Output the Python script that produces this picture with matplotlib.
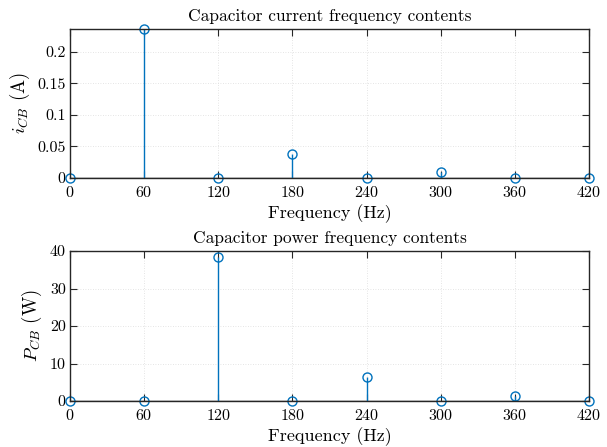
import numpy as np
import matplotlib
matplotlib.use("Agg")
import matplotlib.pyplot as plt
import matplotlib.ticker as mticker

# ------------------------------------------------------------
# Dados
freq = [0, 60, 120, 180, 240, 300, 360, 420]
i_cb = [0, 0.236, 0, 0.038, 0, 0.009, 0, 0]
p_cb = [0, 0, 38.4, 0, 6.5, 0, 1.3, 0]

i_ticks = [0, 0.05, 0.1, 0.15, 0.2]
p_ticks = [0, 10, 20, 30, 40]

# ------------------------------------------------------------
# Estilo tipo MATLAB/LaTeX
plt.rcParams["font.family"] = "serif"
plt.rcParams["font.serif"] = ["cmr10", "DejaVu Serif"]
plt.rcParams["mathtext.fontset"] = "cm"
plt.rcParams["axes.formatter.use_mathtext"] = True

azul = "#0072BD"
eixo = "#262626"

fig = plt.figure(figsize=(6.07, 4.47), dpi=100)
ax1 = fig.add_axes([70 / 607, 1 - 178 / 447, 519 / 607, 149 / 447])
ax2 = fig.add_axes([70 / 607, 1 - 401 / 447, 519 / 607, 150 / 447])


def stem(ax, x, y, ymax, yticks, ylabel, title):
    ml, sl, bl = ax.stem(x, y, basefmt=" ")
    plt.setp(sl, color=azul, linewidth=1.0)
    plt.setp(ml, color=azul, marker="o", markersize=6.5,
             markerfacecolor="none", markeredgewidth=1.0)
    ml.set_clip_on(False)
    ax.axhline(0, color=eixo, linewidth=1.0, zorder=1)
    ax.set_xlim(0, 420)
    ax.set_ylim(0, ymax)
    ax.set_xticks(x)
    ax.set_yticks(yticks)
    ax.yaxis.set_major_formatter(mticker.FuncFormatter(lambda v, _: f"{v:g}"))
    ax.tick_params(direction="in", top=True, right=True, length=5,
                   width=0.8, color=eixo, labelsize=11.5)
    ax.tick_params(axis="x", pad=5)
    ax.tick_params(axis="y", pad=3)
    ax.grid(True, linestyle=(0, (1, 2)), color="#dcdcdc", linewidth=0.6)
    ax.set_axisbelow(True)
    for s in ax.spines.values():
        s.set_color(eixo)
        s.set_linewidth(1.0)
    ax.set_xlabel("Frequency (Hz)", fontsize=13, labelpad=3)
    ax.set_ylabel(ylabel, fontsize=13.5, labelpad=4)
    ax.set_title(title, fontsize=12.5, pad=6)


stem(ax1, freq, i_cb, 0.236, i_ticks, r"$i_{CB}$ (A)",
     "Capacitor current frequency contents")
stem(ax2, freq, p_cb, 40, p_ticks, r"$P_{CB}$ (W)",
     "Capacitor power frequency contents")

fig.savefig("out.png", dpi=100)
